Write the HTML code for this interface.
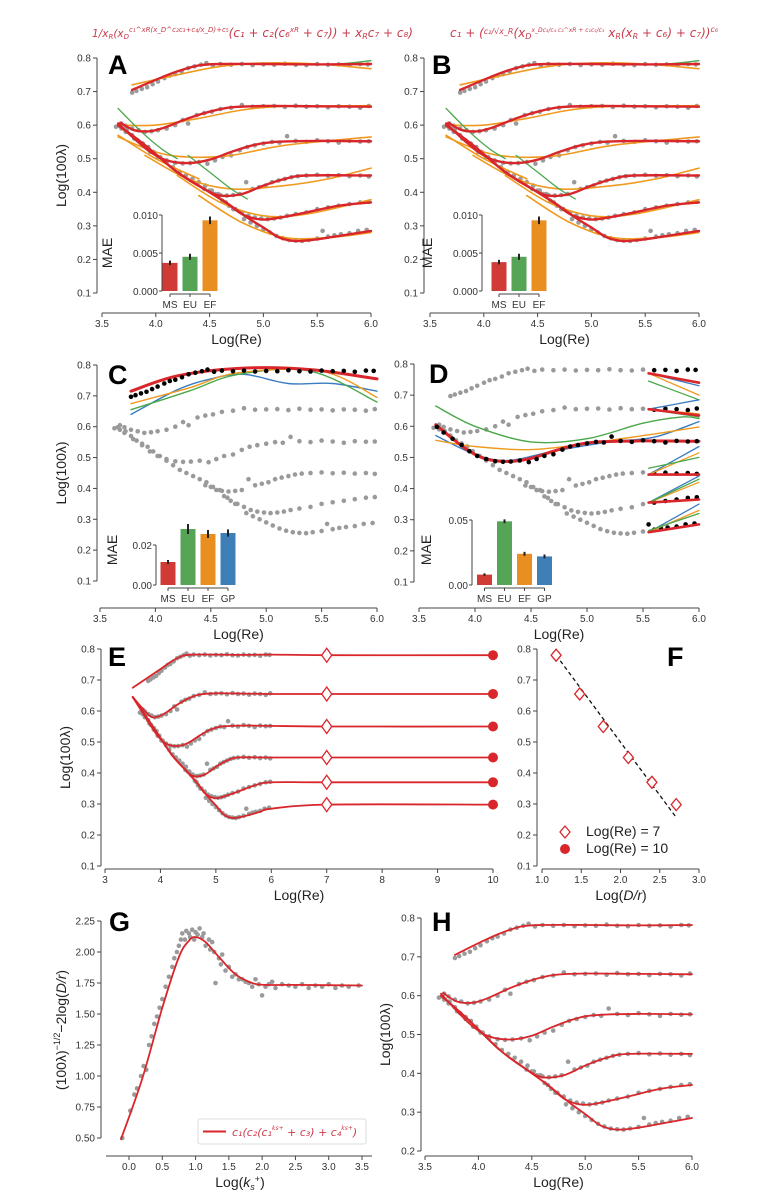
<!DOCTYPE html>
<html><head><meta charset="utf-8"><style>
html,body{margin:0;padding:0;background:#fff;}
svg{display:block;font-family:"Liberation Sans Narrow","Liberation Sans",sans-serif;}
.tk{font-size:10px;fill:#333;}
.al{font-size:14px;fill:#222;}
.pl{font-family:"Liberation Sans",sans-serif;font-weight:bold;font-size:27px;fill:#000;}
.fm{font-family:"DejaVu Sans","Liberation Sans",sans-serif;fill:#c93a4a;font-style:italic;}
</style></head><body>
<svg id="fig" width="779" height="1200" viewBox="0 0 779 1200" xmlns="http://www.w3.org/2000/svg">
<text class="fm" x="92" y="37" font-size="10.5">
<tspan>1/x</tspan><tspan font-size="7" dy="2">R</tspan><tspan dy="-2">(x</tspan><tspan font-size="7" dy="2">D</tspan><tspan font-size="7" dy="-7">c₁^xR(x_D^c₂c₃+c₄/x_D)+c₅</tspan><tspan dy="5" font-size="12">(c₁ + c₂(c₆</tspan><tspan font-size="7" dy="-5">xR</tspan><tspan dy="5" font-size="12"> + c₇)) + x</tspan><tspan font-size="8" dy="2">R</tspan><tspan dy="-2" font-size="12">c₇ + c₈)</tspan></text>
<text class="fm" x="450" y="37" font-size="12">
<tspan>c₁ + (</tspan><tspan font-size="8" dy="-3">c₂/√x_R</tspan><tspan dy="3">(x</tspan><tspan font-size="8" dy="2">D</tspan><tspan font-size="6" dy="-7">x_Dc₃/c₄ c₂^xR + c₁c₅/c₃</tspan><tspan dy="5"> x</tspan><tspan font-size="8" dy="2">R</tspan><tspan dy="-2">(x</tspan><tspan font-size="8" dy="2">R</tspan><tspan dy="-2"> + c₆) + c₇))</tspan><tspan font-size="8" dy="-5">c₆</tspan></text>
</svg>
<script>
// ===== data =====
const c1X=[3.78,3.82,3.87,3.92,3.97,4.02,4.08,4.13,4.18,4.24,4.3,4.36,4.42,4.47,4.53,4.6,4.7,4.8,4.9,5.0,5.1,5.2,5.3,5.4,5.5,5.6,5.7,5.8,5.9,5.97];
const c1Y=[.697,.702,.708,.713,.722,.73,.74,.748,.752,.76,.77,.775,.78,.785,.778,.782,.78,.782,.779,.781,.78,.783,.78,.779,.782,.78,.781,.778,.782,.781];
const c2X=[3.68,3.72,3.78,3.84,3.9,3.96,4.02,4.1,4.18,4.25,4.3,4.38,4.45,4.52,4.6,4.7,4.8,4.9,5.0,5.1,5.2,5.3,5.4,5.5,5.6,5.7,5.8,5.9,5.98];
const c2Y=[.605,.598,.59,.585,.58,.582,.585,.59,.6,.615,.605,.63,.636,.64,.648,.652,.66,.655,.656,.657,.654,.658,.655,.656,.653,.656,.655,.652,.657];
const c3X=[3.66,3.72,3.8,3.88,3.95,4.02,4.1,4.18,4.25,4.32,4.4,4.48,4.55,4.62,4.7,4.78,4.85,4.92,5.0,5.08,5.15,5.22,5.3,5.4,5.5,5.6,5.7,5.8,5.9,5.98];
const c3Y=[.598,.58,.56,.54,.52,.505,.495,.488,.486,.487,.49,.485,.495,.505,.51,.525,.535,.54,.545,.55,.548,.567,.553,.55,.555,.552,.548,.553,.551,.552];
const c4X=[4.45,4.5,4.55,4.6,4.66,4.72,4.78,4.84,4.9,4.96,5.02,5.08,5.14,5.2,5.26,5.32,5.4,5.5,5.6,5.7,5.8,5.9,5.98];
const c4Y=[.41,.405,.395,.392,.39,.392,.395,.43,.41,.415,.42,.43,.435,.44,.445,.448,.45,.452,.449,.451,.448,.45,.447];
const c5X=[4.46,4.52,4.58,4.62,4.68,4.74,4.8,4.86,4.92,4.98,5.04,5.1,5.16,5.22,5.3,5.4,5.5,5.6,5.7,5.8,5.9,5.98];
const c5Y=[.42,.405,.395,.375,.36,.35,.34,.33,.325,.322,.32,.322,.325,.33,.335,.34,.35,.355,.36,.365,.37,.372];
const c6X=[4.65,4.72,4.82,4.88,4.94,5.0,5.06,5.12,5.18,5.24,5.3,5.36,5.42,5.5,5.55,5.6,5.66,5.72,5.8,5.88,5.96];
const c6Y=[.37,.35,.32,.31,.3,.29,.28,.27,.263,.258,.256,.255,.258,.262,.285,.268,.272,.275,.278,.285,.288];
const smX=[3.63,3.68,3.73,3.78,3.83,3.88,3.93,3.98,4.04,4.1,4.16,4.22,4.28,4.34,4.4];
const smY=[.595,.59,.585,.57,.555,.545,.535,.52,.505,.49,.475,.46,.45,.44,.43];
// MS fits (knot x / y)
const f1X=[3.78,4.0,4.2,4.4,4.6,5.0,5.5,6.0], f1Y=[.705,.735,.76,.778,.782,.782,.781,.782];
const f2X=[3.67,3.8,3.95,4.1,4.3,4.5,4.7,5.0,5.5,6.0], f2Y=[.607,.585,.582,.595,.62,.64,.653,.657,.656,.655];
const f3X=[3.65,3.8,3.95,4.1,4.3,4.5,4.7,4.9,5.1,5.5,6.0], f3Y=[.605,.56,.52,.495,.487,.497,.52,.54,.55,.553,.552];
const f4X=[3.65,3.9,4.2,4.45,4.6,4.8,5.0,5.2,5.4,6.0], f4Y=[.6,.54,.46,.41,.39,.395,.42,.44,.45,.45];
const f5X=[3.65,3.9,4.2,4.45,4.65,4.8,4.95,5.1,5.4,5.7,6.0], f5Y=[.6,.54,.46,.41,.37,.335,.32,.322,.34,.36,.37];
const f6X=[3.65,3.9,4.2,4.45,4.65,4.85,5.0,5.15,5.3,5.5,5.8,6.0], f6Y=[.6,.54,.46,.41,.37,.325,.295,.265,.255,.26,.275,.285];
// EF (orange) fits in A/B
const o1X=[3.78,4.2,4.6,5.0,5.5,6.0], o1Y=[.72,.75,.775,.785,.782,.768];
const o2X=[3.7,4.0,4.4,4.8,5.2,6.0], o2Y=[.6,.6,.62,.645,.656,.658];
const o3X=[3.65,4.0,4.3,4.7,5.2,6.0], o3Y=[.565,.52,.505,.51,.54,.565];
const o4X=[3.9,4.3,4.7,5.2,5.6,6.0], o4Y=[.51,.44,.41,.42,.44,.472];
const o5X=[4.2,4.6,5.0,5.4,6.0], o5Y=[.45,.37,.33,.335,.378];
const o6X=[4.4,4.8,5.2,5.6,6.0], o6Y=[.39,.31,.265,.265,.28];
// EU (green) extras in A/B
const g1X=[3.65,3.85,4.05,4.2], g1Y=[.65,.585,.53,.5];
const g2X=[4.3,4.5,4.7,4.85], g2Y=[.51,.46,.41,.38];
const g3X=[5.4,5.7,6.0], g3Y=[.78,.782,.792];
// C panel fits
const cRX=[3.78,4.2,4.8,5.4,6.0], cRY=[.715,.765,.79,.785,.755];
const cBX=[3.78,4.2,4.5,4.8,5.2,5.6,6.0], cBY=[.64,.72,.755,.77,.74,.74,.715];
const cOX=[3.78,4.3,4.75,5.5,6.0], cOY=[.675,.725,.775,.78,.695];
const cGX=[3.78,4.3,4.75,5.4,6.0], cGY=[.655,.715,.77,.78,.68];
// D panel fits (curve 3, full range)
const dRX=f3X, dRY=f3Y;
const dOX=[3.65,4.0,4.5,5.0,5.5,6.0], dOY=[.555,.535,.525,.545,.57,.598];
const dBX=[3.65,4.0,4.3,4.7,5.2,5.6,6.0], dBY=[.57,.51,.49,.52,.55,.565,.615];
const dGX=[3.65,4.0,4.5,5.0,5.5,5.85,6.0], dGY=[.665,.6,.55,.56,.61,.63,.625];
// D short extrapolation segments (start at 5.55 -> end at 6.0) for curves 1,2,4,5,6
const segStart=[.77,.655,.445,.355,.26];
const segRed=[.74,.635,.445,.365,.285];
const segBlue=[.73,.685,.535,.44,.35];
const segOrange=[.70,.64,.515,.42,.33];
const segGreenStart=[.745,.655,.465,.355,.265];
const segGreen=[.685,.63,.50,.43,.32];
// Insets (MAE)
const maeCats=['MS','EU','EF','GP'];
const maeA=[.0037,.0045,.0093], maeAerr=[.0003,.0004,.0005];
const maeB=[.0038,.0045,.0093], maeBerr=[.0003,.0004,.0005];
const maeC=[.0115,.028,.0255,.026], maeCerr=[.001,.0025,.002,.0018];
const maeD=[.008,.049,.024,.022], maeDerr=[.001,.0015,.0015,.0015];
// E / F
const plateau=[.78,.655,.55,.45,.37,.298];
const logDr=[1.18,1.48,1.78,2.1,2.4,2.71];
const eStart=[.675,.645,.645,.645,.645,.645];
const fLineX=[1.18,2.7], fLineY=[.78,.26];
// G
const gFitX=[-0.12,0.2,0.5,0.75,0.9,1.0,1.15,1.35,1.6,1.85,2.05,2.5,3.5], gFitY=[.49,.98,1.55,1.96,2.09,2.12,2.08,1.96,1.82,1.75,1.735,1.735,1.73];
const gPtX=[-0.1,0.02,0.08,0.12,0.18,0.22,0.26,0.3,0.34,0.38,0.42,0.46,0.5,0.55,0.6,0.65,0.68,0.72,0.75,0.78,0.8,0.84,0.86,0.9,0.92,0.95,0.98,1.0,1.03,1.06,1.1,1.12,1.15,1.2,1.22,1.25,1.28,1.3,1.35,1.38,1.4,1.45,1.5,1.55,1.6,1.65,1.7,1.75,1.8,1.85,1.9,1.95,2.0,2.05,2.1,2.15,2.2,2.3,2.4,2.5,2.6,2.7,2.8,2.9,3.0,3.1,3.2,3.3,3.45];
const gPtY=[.5,.72,.85,.9,1.0,1.08,1.05,1.25,1.32,1.42,1.48,1.55,1.62,1.72,1.8,1.88,1.95,2.0,2.05,2.1,2.15,2.1,2.17,2.15,2.12,2.18,2.1,2.16,2.14,2.19,2.12,2.15,2.05,2.1,2.02,2.08,2.0,1.75,1.95,1.9,1.98,1.85,1.88,1.8,1.82,1.78,1.78,1.76,1.75,1.72,1.78,1.74,1.65,1.72,1.74,1.76,1.71,1.74,1.73,1.72,1.74,1.71,1.73,1.72,1.74,1.71,1.73,1.72,1.73];

// ===== helpers =====
const NS='http://www.w3.org/2000/svg';
const svg=document.getElementById('fig');
function mk(tag,attrs,parent){const e=document.createElementNS(NS,tag);for(const k in attrs)e.setAttribute(k,attrs[k]);(parent||svg).appendChild(e);return e;}
function lin(d0,d1,r0,r1){return v=>r0+(v-d0)/(d1-d0)*(r1-r0);}
function crPath(px){if(px.length<2)return'';let d='M'+px[0][0].toFixed(1)+','+px[0][1].toFixed(1);
 for(let i=0;i<px.length-1;i++){const p0=px[Math.max(0,i-1)],p1=px[i],p2=px[i+1],p3=px[Math.min(px.length-1,i+2)];
 const a=[p1[0]+(p2[0]-p0[0])/6,p1[1]+(p2[1]-p0[1])/6],b=[p2[0]-(p3[0]-p1[0])/6,p2[1]-(p3[1]-p1[1])/6];
 d+='C'+a[0].toFixed(1)+','+a[1].toFixed(1)+' '+b[0].toFixed(1)+','+b[1].toFixed(1)+' '+p2[0].toFixed(1)+','+p2[1].toFixed(1);}return d;}
function txt(x,y,s,cls,anchor,parent){const t=mk('text',{x:x,y:y,class:cls,'text-anchor':anchor||'middle'},parent);t.textContent=s;return t;}

function axes(P){
 const g=mk('g',{});
 
 
 const yl=mk('line',{x1:P.ax,x2:P.ax,y1:P.sy(P.yt[0]),y2:P.sy(P.yt[P.yt.length-1]),stroke:'#444','stroke-width':1},g);
 
 
 P.yt.forEach(v=>{const y=P.sy(v);
  const t=mk('line',{x1:P.ax-4,x2:P.ax,y1:y,y2:y,stroke:'#444'},g);
  
  
  const l=txt(P.ax-6,y+3.5,v.toFixed(P.yd),'tk','end',g);
  
  });
 const x0=P.xa0!==undefined?P.xa0:P.sx(P.xt[0]),x1=P.xa1!==undefined?P.xa1:P.sx(P.xt[P.xt.length-1]);
 const xl=mk('line',{x1:x0,x2:x1,y1:P.ay,y2:P.ay,stroke:'#444'},g);
 
 
 P.xt.forEach(v=>{const x=P.sx(v);
  const t=mk('line',{x1:x,x2:x,y1:P.ay,y2:P.ay+4,stroke:'#444'},g);
  
  
  const l=txt(x,P.ay+14,v.toFixed(P.xd),'tk','middle',g);
  
  });
 if(P.xlab){const l=txt((x0+x1)/2,P.ay+31,P.xlab,'al','middle',g);
  
  }
 if(P.ylab){const cy=(P.sy(P.yt[0])+P.sy(P.yt[P.yt.length-1]))/2;const l=mk('text',{x:0,y:0,class:'al','text-anchor':'middle',transform:'translate('+(P.ax-31)+','+cy+') rotate(-90)'},g);l.textContent=P.ylab;
  
  }
 const L=txt(P.lx,P.ly,P.letter,'pl','start',g);
 
 
}
function curve(P,xs,ys,color,w,name,extra){
 const px=xs.map((x,i)=>[P.sx(x),P.sy(ys[i])]);
 const p=mk('path',Object.assign({d:crPath(px),fill:'none',stroke:color,'stroke-width':w,'stroke-linecap':'round'},extra||{}));
 
 
 return p;}
function dots(P,xs,ys,color,name,filter){
 const g=mk('g',{});
 
 
 xs.forEach((x,i)=>{let c=color;if(filter)c=filter(x);
  const d=mk('circle',{cx:P.sx(x).toFixed(1),cy:P.sy(ys[i]).toFixed(1),r:2.3,fill:c},g);
  
  });}
const RED='#d9262b',GREEN='#4aa84a',ORANGE='#ef9a1e',BLUE='#3a7dc0',GRAY='#9a9a9a';
const allX=[c1X,c2X,c3X,c4X,c5X,c6X,smX], allY=[c1Y,c2Y,c3Y,c4Y,c5Y,c6Y,smY];
const fitX=[f1X,f2X,f3X,f4X,f5X,f6X], fitY=[f1Y,f2Y,f3Y,f4Y,f5Y,f6Y];
const orX=[o1X,o2X,o3X,o4X,o5X,o6X], orY=[o1Y,o2Y,o3Y,o4Y,o5Y,o6Y];

function inset(I,vals,errs,cats){
 const sy=lin(0,I.top,I.y0,I.y1);
 const g=mk('g',{});
 
 
 const cols=['#d13b36','#56a556','#e98f22','#3f7fb8'];
 vals.forEach((v,i)=>{const cx=I.c0+i*I.step;
  const b=mk('rect',{x:cx-7.5,y:sy(v),width:15,height:I.y0-sy(v),fill:cols[i]},g);
  
  
  const e=mk('line',{x1:cx,x2:cx,y1:sy(v-errs[i]),y2:sy(v+errs[i]),stroke:'#222','stroke-width':2},g);
  
  
  const t=mk('line',{x1:cx,x2:cx,y1:I.y0+3,y2:I.y0+6,stroke:'#444'},g);
  
  
  const l=txt(cx,I.y0+17,cats[i],'tk','middle',g);l.setAttribute('font-size','12');
  
  });
 const xa=mk('line',{x1:I.c0,x2:I.c0+(vals.length-1)*I.step,y1:I.y0+3,y2:I.y0+3,stroke:'#444'},g);
 
 
 const ya=mk('line',{x1:I.ax,x2:I.ax,y1:I.y0,y2:sy(I.ticks[I.ticks.length-1]),stroke:'#444'},g);
 
 
 I.ticks.forEach(v=>{const y=sy(v);
  const t=mk('line',{x1:I.ax-3,x2:I.ax,y1:y,y2:y,stroke:'#444'},g);
  
  
  const l=txt(I.ax-4,y+4,v.toFixed(I.d),'tk','end',g);l.setAttribute('font-size','12');
  
  });
 const m=mk('text',{x:0,y:0,class:'al','text-anchor':'middle',transform:'translate('+I.mx+','+I.my+') rotate(-90)'},g);m.textContent='MAE';
 
 
}

const reT=[3.5,4.0,4.5,5.0,5.5,6.0], lamT=[0.1,0.2,0.3,0.4,0.5,0.6,0.7,0.8];
// ===== A & B =====
[['panel-a','A',102,371,97,'Log(100λ)',108,162,170,maeA,maeAerr],['panel-b','B',430,699,424,null,432,482,499,maeB,maeBerr]].forEach(c=>{
 const P={name:c[0],letter:c[1],sx:lin(3.5,6,c[2],c[3]),sy:lin(0.8,0.1,58,293),ax:c[4],ay:313,xt:reT,yt:lamT,xd:1,yd:1,xlab:'Log(Re)',ylab:c[5],lx:c[6],ly:74};
 axes(P);
 for(let i=0;i<7;i++)dots(P,allX[i],allY[i],GRAY,P.name+'-data-'+(i+1));
 for(let i=0;i<6;i++)curve(P,orX[i],orY[i],ORANGE,1.6,P.name+'-ef-fit-'+(i+1));
 curve(P,[3.65,4.0,4.4],[.57,.5,.44],ORANGE,1.6,P.name+'-ef-fit-smooth');
 curve(P,g1X,g1Y,GREEN,1.3,P.name+'-eu-fit-1');curve(P,g2X,g2Y,GREEN,1.3,P.name+'-eu-fit-2');curve(P,g3X,g3Y,GREEN,1.3,P.name+'-eu-fit-3');
 for(let i=0;i<6;i++)curve(P,fitX[i],fitY[i],RED,2.4,P.name+'-ms-fit-'+(i+1));
 inset({name:P.name+'-mae-inset',ax:c[7],c0:c[8],step:20,y0:291,y1:215,top:0.010,ticks:[0,0.005,0.010],d:3,mx:c[7]-50,my:253},c[9],c[10],maeCats);
});
// ===== C =====
(function(){
 const P={name:'panel-c',letter:'C',sx:lin(3.5,6,100,377),sy:lin(0.8,0.1,365,581),ax:97,ay:608,xt:reT,yt:lamT,xd:1,yd:1,xlab:'Log(Re)',ylab:'Log(100λ)',lx:108,ly:384};
 axes(P);
 for(let i=1;i<7;i++)dots(P,allX[i],allY[i],GRAY,'panel-c-data-'+(i+1));
 curve(P,cBX,cBY,BLUE,1.4,'panel-c-gp-fit');curve(P,cGX,cGY,GREEN,1.4,'panel-c-eu-fit');curve(P,cOX,cOY,ORANGE,1.4,'panel-c-ef-fit');
 curve(P,cRX,cRY,RED,3,'panel-c-ms-fit');
 dots(P,c1X,c1Y,'#000','panel-c-target-data');
 inset({name:'panel-c-mae-inset',ax:156,c0:168,step:20,y0:585,y1:545,top:0.02,ticks:[0,0.02],d:2,mx:117,my:550},maeC,maeCerr,maeCats);
})();
// ===== D =====
(function(){
 const P={name:'panel-d',letter:'D',sx:lin(3.5,6,419,699),sy:lin(0.8,0.1,364,582),ax:414,ay:608,xt:reT,yt:lamT,xd:1,yd:1,xlab:'Log(Re)',ylab:null,lx:429,ly:383};
 axes(P);
 const idx=[0,1,3,4,5];
 for(let i=0;i<7;i++){if(i===2)continue;dots(P,allX[i],allY[i],GRAY,'panel-d-data-'+(i+1),x=>x>=5.55?'#000':GRAY);}
 curve(P,dBX,dBY,BLUE,1.4,'panel-d-gp-fit');curve(P,dGX,dGY,GREEN,1.4,'panel-d-eu-fit');curve(P,dOX,dOY,ORANGE,1.4,'panel-d-ef-fit');
 curve(P,dRX,dRY,RED,3,'panel-d-ms-fit');
 idx.forEach((ci,k)=>{
  curve(P,[5.55,6],[segStart[k],segBlue[k]],BLUE,1.3,'panel-d-gp-seg');
  curve(P,[5.55,6],[segStart[k],segOrange[k]],ORANGE,1.3,'panel-d-ef-seg');
  curve(P,[5.55,6],[segGreenStart[k],segGreen[k]],GREEN,1.3,'panel-d-eu-seg');
  curve(P,[5.55,6],[segStart[k],segRed[k]],RED,2.6,'panel-d-ms-seg');});
 dots(P,c3X,c3Y,'#000','panel-d-target-data');
 inset({name:'panel-d-mae-inset',ax:472,c0:484.5,step:20,y0:585,y1:520,top:0.05,ticks:[0,0.05],d:2,mx:431,my:550},maeD,maeDerr,maeCats);
})();
// ===== E =====
(function(){
 const P={name:'panel-e',letter:'E',sx:lin(3,10,105,493),sy:lin(0.8,0.1,649,866),ax:101,ay:869,xt:[3,4,5,6,7,8,9,10],yt:lamT,xd:0,yd:1,xlab:'Log(Re)',ylab:'Log(100λ)',lx:108,ly:666};
 axes(P);
 for(let i=0;i<7;i++)dots(P,allX[i],allY[i],GRAY,'panel-e-data-'+(i+1));
 for(let i=0;i<6;i++){const xs=[3.5].concat(fitX[i].slice(1),[7,10]);const ys=[eStart[i]].concat(fitY[i].slice(1),[plateau[i],plateau[i]]);
  curve(P,xs,ys,RED,1.8,'panel-e-fit-'+(i+1));
  const x7=P.sx(7),y=P.sy(plateau[i]);
  const d=mk('path',{d:'M'+x7+','+(y-7)+'L'+(x7+5)+','+y+'L'+x7+','+(y+7)+'L'+(x7-5)+','+y+'Z',fill:'#fff',stroke:RED,'stroke-width':1.3});
  
  
  const c=mk('circle',{cx:P.sx(10),cy:y,r:5,fill:RED});
  
  }
})();
// ===== F =====
(function(){
 const P={name:'panel-f',letter:'F',sx:lin(1,3,542,699),sy:lin(0.8,0.1,649,866),ax:537,ay:869,xt:[1.0,1.5,2.0,2.5,3.0],yt:lamT,xd:1,yd:1,xlab:'',ylab:null,lx:667,ly:666};
 axes(P);
 const xl=mk('text',{x:621,y:900,class:'al','text-anchor':'middle'});xl.innerHTML='Log(<tspan font-style="italic">D/r</tspan>)';
 
 
 const ln=mk('line',{x1:P.sx(fLineX[0]),y1:P.sy(fLineY[0]),x2:P.sx(fLineX[1]),y2:P.sy(fLineY[1]),stroke:'#111','stroke-width':1.3,'stroke-dasharray':'4,3'});
 
 
 logDr.forEach((x,i)=>{const px=P.sx(x),y=P.sy(plateau[i]);
  const c=mk('circle',{cx:px,cy:y,r:4.5,fill:RED});
  
  
  const d=mk('path',{d:'M'+px+','+(y-6)+'L'+(px+5)+','+y+'L'+px+','+(y+6)+'L'+(px-5)+','+y+'Z',fill:'#fff',stroke:RED,'stroke-width':1.3});
  
  });
 const lg=mk('g',{});
 
 
 const d=mk('path',{d:'M565,826L570,832L565,838L560,832Z',fill:'#fff',stroke:RED,'stroke-width':1.3},lg);
 
 
 const t1=txt(586,836,'Log(Re) = 7','al','start',lg);t1.setAttribute('font-size','12');
 
 
 const c=mk('circle',{cx:565,cy:849,r:5,fill:RED},lg);
 
 
 const t2=txt(586,853,'Log(Re) = 10','al','start',lg);t2.setAttribute('font-size','12');
 
 
})();
// ===== G =====
(function(){
 const P={name:'panel-g',letter:'G',sx:lin(0,3.5,129,362),sy:lin(2.25,0.5,921,1138),ax:101,ay:1156,xa0:106,xa1:372,xt:[0,0.5,1,1.5,2,2.5,3,3.5],yt:[0.5,0.75,1.0,1.25,1.5,1.75,2.0,2.25],xd:1,yd:2,xlab:'',ylab:null,lx:109,ly:931};
 axes(P);
 const xl=mk('text',{x:240,y:1187,class:'al','text-anchor':'middle'});xl.innerHTML='Log(<tspan font-style="italic">k</tspan><tspan font-size="9" dy="3" font-style="italic">s</tspan><tspan font-size="9" dy="-8">+</tspan><tspan dy="5">)</tspan>';
 
 
 const yl=mk('text',{x:0,y:0,class:'al','text-anchor':'middle',transform:'translate(66,1030) rotate(-90)'});yl.innerHTML='(100λ)<tspan font-size="9" dy="-6">−1/2</tspan><tspan dy="6">−2log(</tspan><tspan font-style="italic">D/r</tspan>)';
 
 
 dots(P,gPtX,gPtY,GRAY,'panel-g-data');
 curve(P,gFitX,gFitY,RED,1.8,'panel-g-fit');
 const lg=mk('g',{});
 
 
 const bx=mk('rect',{x:198,y:1119,width:168,height:25,fill:'#fff',stroke:'#ddd',rx:2},lg);
 
 
 const ll=mk('line',{x1:203,x2:226,y1:1131.5,y2:1131.5,stroke:RED,'stroke-width':2},lg);
 
 
 const lt=mk('text',{x:232,y:1136,class:'fm','font-size':'11'},lg);
 lt.innerHTML='c₁(c₂(c₁<tspan font-size="6" dy="-6">ks+</tspan><tspan dy="6"> + c₃) + c₄</tspan><tspan font-size="6" dy="-6">ks+</tspan><tspan dy="6">)</tspan>';
 lt.setAttribute('fill','#333');
 
 
})();
// ===== H =====
(function(){
 const P={name:'panel-h',letter:'H',sx:lin(3.5,6,425,692),sy:lin(0.8,0.2,918,1151),ax:421,ay:1156,xt:reT,yt:[0.2,0.3,0.4,0.5,0.6,0.7,0.8],xd:1,yd:1,xlab:'Log(Re)',ylab:'Log(100λ)',lx:432,ly:931};
 axes(P);
 for(let i=0;i<7;i++)dots(P,allX[i],allY[i],GRAY,'panel-h-data-'+(i+1));
 for(let i=0;i<6;i++)curve(P,fitX[i],fitY[i],RED,1.8,'panel-h-fit-'+(i+1));
})();
</script>
</body></html>
